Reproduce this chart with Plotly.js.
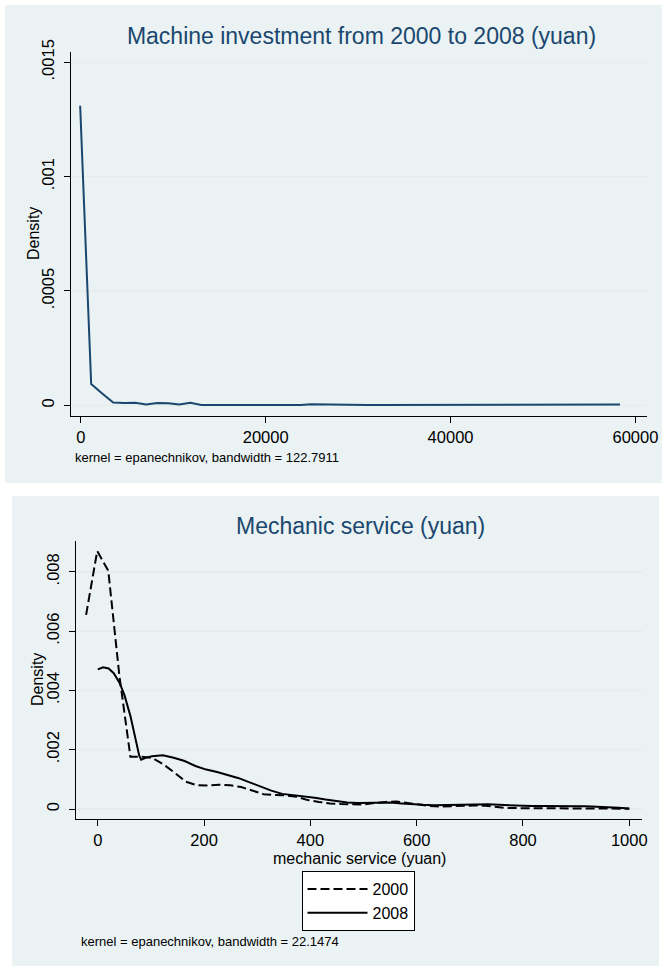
<!DOCTYPE html>
<html>
<head>
<meta charset="utf-8">
<script src="https://cdn.plot.ly/plotly-3.0.1.min.js"></script>
<style>
  html, body { margin: 0; padding: 0; background: #ffffff; }
  #chart { width: 669px; height: 972px; }
</style>
</head>
<body>
<div id="chart"></div>
<script>
// ---------- Data ----------
// Panel 1: kernel density of machine investment 2000-2008 (yuan)
var machineX = [-75, 1117, 2309, 3501, 4693, 5885, 7077, 8269, 9461, 10653,
  11845, 13037, 14229, 15421, 16613, 17805, 18997, 20189, 21381, 22573,
  23765, 24957, 26149, 27341, 28533, 29725, 30917, 32109, 33301, 34493,
  35685, 36877, 38069, 39261, 40453, 41645, 42837, 44029, 45221, 46413,
  47605, 48797, 49989, 51181, 52373, 53565, 54757, 55949, 57141, 58333];
var machineDensity = [0.00131, 0.000093, 0.000052, 0.000012, 0.000010, 0.000011, 0.000004, 0.000010, 0.000009, 0.000003,
  0.000011, 0.000001, 0.000001, 0.000001, 0.000001, 0.000001, 0.000004, 0.000001, 0.000001, 0.000001,
  0.000001, 0.000005, 0.000004, 0.000001, 0.000001, 0.000001, 0.000001, 0.000001, 0.000001, 0.000001,
  0.000001, 0.000001, 0.000001, 0.000001, 0.000001, 0.000002, 0.000001, 0.000001, 0.000001, 0.000001,
  0.000001, 0.000001, 0.000001, 0.000001, 0.000001, 0.000001, 0.000001, 0.000001, 0.000001, 0.000003];

// Panel 2: kernel density of mechanic service (yuan), 2000 vs 2008
var service2000X = [-22, -1.1, 19.7, 40.6, 61.4, 82.3, 103.1, 124, 144.9, 165.7,
  186.6, 207.4, 228.3, 249.1, 270, 290.9, 311.7, 332.6, 353.4, 374.3,
  395.1, 416, 436.9, 457.7, 478.6, 499.4, 520.3, 541.1, 562, 582.9,
  603.7, 624.6, 645.4, 666.3, 687.1, 708, 728.9, 749.7, 770.6, 791.4,
  812.3, 833.1, 854, 874.9, 895.7, 916.6, 937.4, 958.3, 979.1, 1000];
var service2000Density = [0.00655, 0.00870, 0.00804, 0.00450, 0.00176, 0.00176, 0.00172, 0.00150, 0.00122, 0.00092,
  0.00080, 0.00079, 0.00082, 0.00080, 0.00074, 0.00062, 0.00050, 0.00047, 0.00046, 0.00041,
  0.00030, 0.00024, 0.00019, 0.00017, 0.00016, 0.00015, 0.00020, 0.00024, 0.00025, 0.00020,
  0.00014, 0.00010, 0.00008, 0.00010, 0.00012, 0.00012, 0.00011, 0.00006, 0.00003, 0.00003,
  0.00003, 0.00003, 0.00003, 0.00003, 0.00003, 0.00003, 0.00003, 0.00002, 0.00002, 0.00001];

var service2008X = [0, 10, 20.4, 30, 40.8, 50, 61.2, 70, 78, 81.6, 90, 102, 122.4, 142.9, 163.3, 183.7,
  204.1, 224.5, 244.9, 265.3, 285.7, 306.1, 326.5, 346.9, 367.3, 387.8,
  408.2, 428.6, 449, 469.4, 489.8, 510.2, 530.6, 551, 571.4, 591.8,
  612.2, 632.7, 653.1, 673.5, 693.9, 714.3, 734.7, 755.1, 775.5, 795.9,
  816.3, 836.7, 857.1, 877.6, 898, 918.4, 938.8, 959.2, 979.6, 1000];
var service2008Density = [0.00471, 0.00478, 0.00474, 0.00458, 0.00426, 0.00385, 0.00315, 0.00240, 0.00180, 0.00166, 0.00173, 0.00178, 0.00181, 0.00173, 0.00162, 0.00145,
  0.00133, 0.00125, 0.00115, 0.00104, 0.00090, 0.00075, 0.00062, 0.00051, 0.00047, 0.00043,
  0.00038, 0.00032, 0.00026, 0.00022, 0.00020, 0.00020, 0.00021, 0.00022, 0.00019, 0.00016,
  0.00014, 0.00013, 0.00014, 0.00015, 0.00016, 0.00016, 0.00016, 0.00014, 0.00012, 0.00010,
  0.00010, 0.00010, 0.00009, 0.00009, 0.00009, 0.00009, 0.00008, 0.00006, 0.00004, 0.00002];

var seriesNames = ['2000', '2008'];

// Tick labels
var topXTicks = [0, 20000, 40000, 60000];
var topXTickText = ['0', '20000', '40000', '60000'];
var topYTicks = [0, 0.0005, 0.001, 0.0015];
var topYTickText = ['0', '.0005', '.001', '.0015'];
var botXTicks = [0, 200, 400, 600, 800, 1000];
var botXTickText = ['0', '200', '400', '600', '800', '1000'];
var botYTicks = [0, 0.002, 0.004, 0.006, 0.008];
var botYTickText = ['0', '.002', '.004', '.006', '.008'];

// ---------- Layout helpers ----------
var W = 669, H = 972;
function px(x) { return x / W; }
function py(y) { return (H - y) / H; }

var FONT = 'Liberation Sans, Arial, sans-serif';
var PANEL = '#eaf2f3';
var GRID = '#e4eced';
var NAVY = '#1a476f';

var traces = [
  {
    x: machineX, y: machineDensity, type: 'scatter', mode: 'lines',
    xaxis: 'x', yaxis: 'y', showlegend: false, name: 'machine investment',
    line: { color: NAVY, width: 2 }
  },
  {
    x: service2000X, y: service2000Density, type: 'scatter', mode: 'lines',
    xaxis: 'x2', yaxis: 'y2', name: seriesNames[0],
    line: { color: '#000000', width: 2, dash: '9px,4px' }
  },
  {
    x: service2008X, y: service2008Density, type: 'scatter', mode: 'lines',
    xaxis: 'x2', yaxis: 'y2', name: seriesNames[1],
    line: { color: '#000000', width: 2 }
  }
];

var axisCommon = {
  showline: true, linecolor: '#000000', linewidth: 1,
  ticks: 'outside', ticklen: 6, tickcolor: '#000000', tickwidth: 1,
  tickfont: { family: FONT, size: 16.5, color: '#000000' },
  zeroline: false, tickmode: 'array', automargin: false
};

function merge(a, b) { var o = {}; for (var k in a) o[k] = a[k]; for (var k2 in b) o[k2] = b[k2]; return o; }

var layout = {
  width: W, height: H,
  margin: { l: 0, r: 0, t: 0, b: 0, pad: 0 },
  paper_bgcolor: '#ffffff',
  plot_bgcolor: '#ffffff',
  font: { family: FONT, color: '#000000' },
  title: {
    text: 'Machine investment from 2000 to 2008 (yuan)',
    font: { family: FONT, size: 23, color: NAVY },
    xref: 'paper', yref: 'paper',
    x: px(361.5), xanchor: 'center',
    y: py(36), yanchor: 'middle'
  },
  xaxis: merge(axisCommon, {
    domain: [px(70.5), px(646.5)],
    range: [-1120, 61200],
    tickvals: topXTicks, ticktext: topXTickText,
    showgrid: false, anchor: 'y'
  }),
  yaxis: merge(axisCommon, {
    domain: [py(416), py(52)],
    range: [-0.0000468, 0.001545],
    tickvals: topYTicks, ticktext: topYTickText, tickangle: -90, ticklabelstandoff: 3,
    showgrid: true, gridcolor: GRID, gridwidth: 1.5, anchor: 'x'
  }),
  xaxis2: merge(axisCommon, {
    domain: [px(76), px(641.5)],
    range: [-41, 1023],
    tickvals: botXTicks, ticktext: botXTickText,
    showgrid: false, anchor: 'y2'
  }),
  yaxis2: merge(axisCommon, {
    domain: [py(819), py(541)],
    range: [-0.000337, 0.00904],
    tickvals: botYTicks, ticktext: botYTickText, tickangle: -90, ticklabelstandoff: 3,
    showgrid: true, gridcolor: GRID, gridwidth: 1.5, anchor: 'x2'
  }),
  showlegend: true,
  legend: {
    x: px(358), xanchor: 'center', xref: 'paper',
    y: py(871), yanchor: 'top', yref: 'paper',
    bgcolor: '#ffffff', bordercolor: '#000000', borderwidth: 1,
    font: { family: FONT, size: 16, color: '#000000' },
    itemwidth: 60, tracegroupgap: 0
  },
  shapes: [
    { type: 'rect', xref: 'paper', yref: 'paper', layer: 'below',
      x0: px(5), x1: px(662), y0: py(483), y1: py(5),
      fillcolor: PANEL, line: { width: 0 } },
    { type: 'rect', xref: 'paper', yref: 'paper', layer: 'below',
      x0: px(12), x1: px(659), y0: py(966), y1: py(496),
      fillcolor: PANEL, line: { width: 0 } }
  ],
  annotations: [
    { text: 'Density', xref: 'paper', yref: 'paper', textangle: -90,
      x: px(34), y: py(234), xanchor: 'center', yanchor: 'middle', showarrow: false,
      font: { family: FONT, size: 16, color: '#000000' } },
    { text: 'kernel = epanechnikov, bandwidth = 122.7911', xref: 'paper', yref: 'paper',
      x: px(73), y: py(457), xanchor: 'left', yanchor: 'middle', showarrow: false,
      font: { family: FONT, size: 13, color: '#000000' } },
    { text: 'Mechanic service (yuan)', xref: 'paper', yref: 'paper',
      x: px(360), y: py(526), xanchor: 'center', yanchor: 'middle', showarrow: false,
      font: { family: FONT, size: 23, color: NAVY } },
    { text: 'Density', xref: 'paper', yref: 'paper', textangle: -90,
      x: px(38), y: py(680), xanchor: 'center', yanchor: 'middle', showarrow: false,
      font: { family: FONT, size: 16, color: '#000000' } },
    { text: 'mechanic service (yuan)', xref: 'paper', yref: 'paper',
      x: px(359), y: py(858.5), xanchor: 'center', yanchor: 'middle', showarrow: false,
      font: { family: FONT, size: 16, color: '#000000' } },
    { text: 'kernel = epanechnikov, bandwidth = 22.1474', xref: 'paper', yref: 'paper',
      x: px(78.5), y: py(941), xanchor: 'left', yanchor: 'middle', showarrow: false,
      font: { family: FONT, size: 13, color: '#000000' } }
  ]
};

Plotly.newPlot('chart', traces, layout, { displayModeBar: false, staticPlot: true });
</script>
</body>
</html>
